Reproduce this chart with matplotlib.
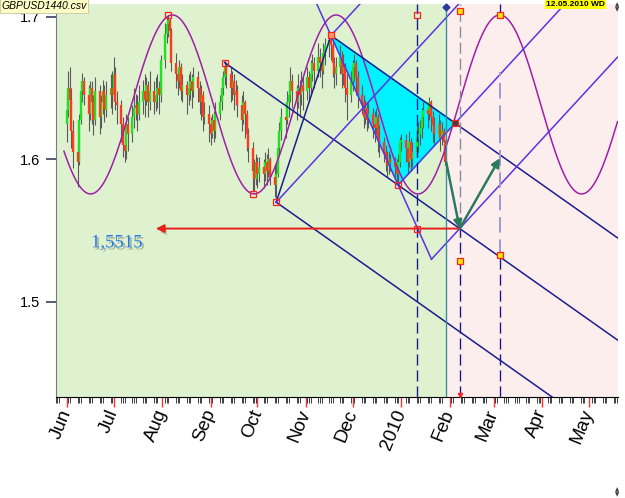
import matplotlib
matplotlib.use("Agg")
import matplotlib.pyplot as plt
import matplotlib.dates as mdates
import matplotlib.patheffects as pe
import numpy as np
import pandas as pd

# GBPUSD daily bars, one row per week (Mon..Fri), 2009-06-01 .. 2010-01-29
close_rows = [
    [1.635, 1.650, 1.642, 1.620, 1.605], [1.598, 1.628, 1.648, 1.655, 1.645],
    [1.632, 1.650, 1.640, 1.628, 1.648], [1.630, 1.640, 1.648, 1.635, 1.645],
    [1.650, 1.645, 1.660, 1.640, 1.638], [1.625, 1.610, 1.606, 1.625, 1.618],
    [1.630, 1.636, 1.638, 1.632, 1.640], [1.648, 1.642, 1.652, 1.640, 1.648],
    [1.640, 1.645, 1.650, 1.645, 1.670], [1.688, 1.695, 1.698, 1.690, 1.668],
    [1.660, 1.655, 1.665, 1.648, 1.652], [1.645, 1.650, 1.655, 1.648, 1.658],
    [1.650, 1.640, 1.645, 1.630, 1.632], [1.625, 1.618, 1.628, 1.620, 1.632],
    [1.640, 1.650, 1.658, 1.665, 1.660], [1.650, 1.655, 1.645, 1.648, 1.638],
    [1.628, 1.640, 1.632, 1.618, 1.608], [1.592, 1.586, 1.598, 1.590, 1.595],
    [1.590, 1.598, 1.592, 1.600, 1.588], [1.582, 1.590, 1.608, 1.620, 1.630],
    [1.628, 1.640, 1.645, 1.655, 1.648], [1.640, 1.650, 1.645, 1.652, 1.648],
    [1.658, 1.650, 1.660, 1.668, 1.662], [1.672, 1.668, 1.662, 1.675, 1.680],
    [1.684, 1.680, 1.668, 1.660, 1.665], [1.672, 1.660, 1.665, 1.650, 1.645],
    [1.655, 1.665, 1.668, 1.658, 1.645], [1.640, 1.630, 1.636, 1.628, 1.632],
    [1.625, 1.622, 1.630, 1.615, 1.612], [1.605, 1.600, 1.596, 1.600, 1.598],
    [1.595, 1.590, 1.598, 1.612, 1.614], [1.608, 1.598, 1.612, 1.600, 1.605],
    [1.615, 1.618, 1.622, 1.630, 1.635], [1.632, 1.640, 1.630, 1.624, 1.618],
    [1.625, 1.615, 1.620, 1.612, 1.598],
]
high_rows = [
    [1.645, 1.662, 1.665, 1.650, 1.628], [1.612, 1.632, 1.652, 1.661, 1.658],
    [1.652, 1.655, 1.655, 1.645, 1.658], [1.652, 1.645, 1.656, 1.652, 1.655],
    [1.660, 1.662, 1.672, 1.665, 1.648], [1.642, 1.630, 1.618, 1.632, 1.630],
    [1.638, 1.650, 1.646, 1.645, 1.652], [1.656, 1.660, 1.658, 1.655, 1.662],
    [1.655, 1.658, 1.660, 1.655, 1.673], [1.696, 1.700, 1.7015, 1.699, 1.692],
    [1.675, 1.665, 1.670, 1.668, 1.660], [1.655, 1.660, 1.662, 1.660, 1.665],
    [1.662, 1.655, 1.652, 1.648, 1.640], [1.638, 1.630, 1.632, 1.634, 1.640],
    [1.645, 1.656, 1.662, 1.670, 1.668], [1.665, 1.662, 1.660, 1.656, 1.652],
    [1.645, 1.648, 1.642, 1.635, 1.622], [1.612, 1.600, 1.604, 1.602, 1.602],
    [1.600, 1.605, 1.604, 1.608, 1.602], [1.596, 1.598, 1.615, 1.626, 1.636],
    [1.640, 1.648, 1.655, 1.665, 1.660], [1.652, 1.660, 1.656, 1.662, 1.658],
    [1.665, 1.662, 1.670, 1.674, 1.672], [1.682, 1.678, 1.674, 1.682, 1.685],
    [1.685, 1.687, 1.684, 1.672, 1.672], [1.680, 1.676, 1.674, 1.668, 1.660],
    [1.662, 1.670, 1.674, 1.670, 1.662], [1.652, 1.645, 1.642, 1.640, 1.640],
    [1.636, 1.634, 1.636, 1.632, 1.624], [1.616, 1.610, 1.606, 1.606, 1.604],
    [1.602, 1.600, 1.604, 1.616, 1.618], [1.618, 1.612, 1.620, 1.615, 1.612],
    [1.624, 1.626, 1.628, 1.636, 1.640], [1.640, 1.644, 1.642, 1.634, 1.630],
    [1.632, 1.628, 1.626, 1.622, 1.614],
]
low_rows = [
    [1.612, 1.630, 1.628, 1.608, 1.594], [1.581, 1.596, 1.625, 1.640, 1.638],
    [1.620, 1.628, 1.625, 1.617, 1.624], [1.618, 1.622, 1.632, 1.626, 1.630],
    [1.636, 1.632, 1.642, 1.635, 1.625], [1.612, 1.602, 1.598, 1.600, 1.606],
    [1.612, 1.622, 1.628, 1.620, 1.628], [1.632, 1.630, 1.638, 1.630, 1.635],
    [1.632, 1.634, 1.636, 1.632, 1.640], [1.664, 1.682, 1.686, 1.680, 1.662],
    [1.650, 1.645, 1.650, 1.642, 1.640], [1.632, 1.638, 1.642, 1.636, 1.644],
    [1.640, 1.632, 1.628, 1.620, 1.625], [1.612, 1.610, 1.615, 1.612, 1.615],
    [1.628, 1.635, 1.645, 1.652, 1.650], [1.640, 1.642, 1.635, 1.638, 1.630],
    [1.620, 1.625, 1.615, 1.606, 1.598], [1.577, 1.578, 1.582, 1.580, 1.584],
    [1.580, 1.585, 1.582, 1.588, 1.582], [1.574, 1.570, 1.588, 1.604, 1.614],
    [1.615, 1.625, 1.630, 1.640, 1.636], [1.628, 1.636, 1.630, 1.638, 1.635],
    [1.642, 1.640, 1.646, 1.655, 1.650], [1.658, 1.658, 1.650, 1.660, 1.666],
    [1.672, 1.670, 1.658, 1.650, 1.652], [1.660, 1.650, 1.652, 1.640, 1.628],
    [1.640, 1.648, 1.655, 1.645, 1.636], [1.632, 1.622, 1.625, 1.620, 1.622],
    [1.615, 1.612, 1.618, 1.605, 1.602], [1.598, 1.592, 1.588, 1.590, 1.592],
    [1.588, 1.584, 1.582, 1.595, 1.606], [1.598, 1.590, 1.595, 1.592, 1.595],
    [1.602, 1.605, 1.610, 1.615, 1.622], [1.622, 1.628, 1.620, 1.612, 1.610],
    [1.615, 1.606, 1.610, 1.604, 1.596],
]
first_open = 1.625

# pivots (date, price)
aug_high = ("2009-08-05", 1.7015)
sep_high = ("2009-09-10", 1.668)
sep_low = ("2009-09-28 10:00", 1.5755)
oct_low = ("2009-10-13", 1.570)
nov_high = ("2009-11-17", 1.687)
dec_low = ("2009-12-30", 1.582)
fork_pt = ("2010-02-04 14:00", 1.6256)
target = ("2010-02-07 09:00", 1.5515)
last_bar = ("2010-01-29 18:00", 1.598)
rise_tip = ("2010-03-05", 1.6009)
level_tip = ("2009-07-28", 1.5515)
level_label = ("2009-07-03", 1.5415)

# time cycle
cycle_peak = "2010-03-05"
cycle_period = 104.7
cycle_top = 1.7014
cycle_bottom = 1.5758

# vertical markers
jan_line = "2010-01-11 06:00"
now_line = "2010-01-29 18:00"
month_labels = ["Jun", "Jul", "Aug", "Sep", "Oct", "Nov", "Dec", "2010",
                "Feb", "Mar", "Apr", "May"]

NAVY = "#1c1c8e"
VIOLET = "#5a34e4"


def xd(s):
    return mdates.date2num(pd.Timestamp(s))


def pt(p):
    return xd(p[0]), p[1]


bar_close = np.array(close_rows).ravel()
bar_high = np.array(high_rows).ravel()
bar_low = np.array(low_rows).ravel()
bar_open = np.r_[first_open, bar_close[:-1]]
bar_dates = mdates.date2num(pd.bdate_range("2009-06-01", "2010-01-29"))

x0 = xd("2009-06-01")
x_left, x_right = x0 - 1.77, x0 + 352.3
y_bot, y_top = 1.4333, 1.7091

fig = plt.figure(figsize=(6.25, 4.98), dpi=100)
ax = fig.add_axes([55.8 / 625, 1 - 397 / 498, (617.5 - 55.8) / 625, 393 / 498])
ax.set_xlim(x_left, x_right)
ax.set_ylim(y_bot, y_top)
ax.set_facecolor("#dff2cf")
ax.axvspan(xd(now_line), x_right, color="#fdeeee", zorder=0)

# fork and fan lines
sx, sy = pt(sep_high)
tx, ty = pt(target)
ox, oy = pt(oct_low)
nx, ny = pt(nov_high)
dx, dy = pt(dec_low)
fx, fy = pt(fork_pt)
k_fork = (ty - sy) / (tx - sx)
k_fan = (fy - dy) / (fx - dx)
k_steep = (dy - ny) / (dx - nx)
zx = (ty - k_fan * tx - ny + k_steep * nx) / (k_steep - k_fan)
zy = ny + k_steep * (zx - nx)

ax.fill([nx, dx, fx], [ny, dy, fy], color="#00f2ff", zorder=1)

# cycle
cx = np.linspace(x_left, x_right, 800)
cy = (cycle_top + cycle_bottom) / 2 + (cycle_top - cycle_bottom) / 2 * np.cos(
    2 * np.pi * (cx - xd(cycle_peak)) / cycle_period)
ax.plot(cx, cy, color="#a01eaa", lw=1.1, zorder=3)

# bars
up = bar_close >= bar_open
ax.vlines(bar_dates, bar_low, bar_high, color="#5a5a5a", lw=0.8, zorder=2)
ax.vlines(bar_dates[up], bar_open[up], bar_close[up], color="#22e022", lw=1.7, zorder=2)
ax.vlines(bar_dates[~up], bar_open[~up], bar_close[~up], color="#ff3b1f", lw=1.7, zorder=2)

lw = 1.1
ax.plot([ox, nx], [oy, ny], color=NAVY, lw=lw, zorder=4)
for px, py in [(sx, sy), (ox, oy), (nx, ny)]:
    ax.plot([px, x_right], [py, py + k_fork * (x_right - px)], color=NAVY, lw=lw, zorder=4)
for px, py in [(ox, oy), (nx, ny), (dx, dy), (zx, zy)]:
    ax.plot([px, x_right], [py, py + k_fan * (x_right - px)], color=VIOLET, lw=lw, zorder=4)
ax.plot([nx - 20, zx], [ny - 20 * k_steep, zy], color=VIOLET, lw=lw, zorder=4)

# verticals
dash = (0, (8, 3.5))
ax.axvline(xd(jan_line), color=NAVY, lw=1.0, ls=dash, zorder=4)
ax.vlines(tx, ty, y_top, color="#8a8aa8", lw=1.0, ls=dash, zorder=4)
ax.vlines(tx, y_bot, ty, color=NAVY, lw=1.0, ls=dash, zorder=4)
px_peak = xd(cycle_peak)
ax.vlines(px_peak, cycle_top, y_top, color=NAVY, lw=1.0, ls=dash, zorder=4)
ax.vlines(px_peak, 1.533, 1.6614, color="#9c9cd0", lw=1.4, ls=dash, zorder=4)
ax.vlines(px_peak, y_bot, 1.533, color=NAVY, lw=1.0, ls=dash, zorder=4)
ax.axvline(xd(now_line), color="#3a8f9c", lw=1.0, zorder=4)

# arrows
shadow = [pe.SimplePatchShadow(offset=(1.5, -2.5), shadow_rgbFace="#707070", alpha=0.35),
          pe.Normal()]
arrows = [(target, level_tip, "#e8201a", 1.4), (last_bar, target, "#2a7a60", 1.8),
          (target, rise_tip, "#2a7a60", 1.8)]
for a, b, c, w in arrows:
    ann = ax.annotate("", xy=pt(b), xytext=pt(a),
                      arrowprops=dict(arrowstyle="-|>", color=c, lw=w,
                                      mutation_scale=12, shrinkA=0, shrinkB=0),
                      zorder=5)
    ann.arrow_patch.set_path_effects(shadow)

lx, ly = pt(level_label)
ax.text(lx, ly, "1,5515", color="#2478e0", fontsize=13.5, family="Liberation Serif",
        ha="center", va="center", zorder=6,
        path_effects=[pe.SimplePatchShadow(offset=(1.5, -1.5), shadow_rgbFace="#606060",
                                           alpha=0.45), pe.Normal()])

# point markers
outline = dict(marker="s", ms=4.5, mec="#ff2020", mew=0.9, ls="none", zorder=6)
for p in [aug_high, sep_high, sep_low, oct_low, dec_low,
          (jan_line, cycle_top), (jan_line, 1.5515)]:
    ax.plot(*pt(p), mfc="none", **outline)
ax.plot(*pt(nov_high), mfc="#ff9a60", **outline)
ax.plot(*pt(fork_pt), mfc="#404040", **outline)
for p in [(target[0], 1.704), (cycle_peak, cycle_top), (target[0], 1.5288), (cycle_peak, 1.533)]:
    ax.plot(*pt(p), mfc="#ffe800", **outline)
ax.plot(xd(now_line), 1.7068, marker="D", ms=3.5, color="#2a3aa0", zorder=6, clip_on=False)
ax.plot(tx, 1.4345, marker="v", ms=3, color="#ff2020", zorder=6, clip_on=False)

# axes styling
for s in ["top", "right"]:
    ax.spines[s].set_visible(False)
ax.spines["left"].set_color("#7a7a7a")
ax.spines["bottom"].set_color("black")

ax.set_yticks([1.5, 1.6, 1.7])
ax.set_yticklabels(["1.5", "1.6", "1.7"], family="Liberation Sans", fontsize=10.5)
ax.tick_params(axis="y", length=7.2, width=1.2, color="#3c3c64", pad=4)

months = mdates.date2num(pd.date_range("2009-06-01", "2010-05-01", freq="MS"))
ax.set_xticks(months)
ax.set_xticklabels(month_labels, family="Liberation Sans", fontsize=13.5,
                   rotation=68, ha="right", va="center", rotation_mode="anchor")
minor = pd.date_range("2009-05-25", "2010-05-19")
minor = minor[minor.dayofweek < 3]
ax.set_xticks(mdates.date2num(minor), minor=True)
ax.tick_params(axis="x", which="major", length=7.5, width=1.0, color="#ff3030", pad=2)
ax.tick_params(axis="x", which="minor", length=4.5, width=0.6, color="#202020")

fig.text(0.002, 0.998, "GBPUSD1440.csv", fontsize=7.5, style="italic",
         family="Liberation Sans", ha="left", va="top",
         bbox=dict(boxstyle="square,pad=0.15", fc="#ffffc8", ec="#c8c8a0", lw=0.6))
fig.text(0.968, 0.998, "12.05.2010 WD", fontsize=6, weight="bold",
         family="Liberation Sans", ha="right", va="top",
         bbox=dict(boxstyle="square,pad=0.1", fc="#ffff00", ec="none"))
fig.text(0.988, 0.995, "\u25b2\n\u25bc", fontsize=4, ha="center", va="top",
         color="#404040", linespacing=0.9)
fig.text(0.988, 0.002, "\u25b2\n\u25bc", fontsize=4, ha="center", va="bottom",
         color="#404040", linespacing=0.9)

fig.savefig("out.png", dpi=100)
